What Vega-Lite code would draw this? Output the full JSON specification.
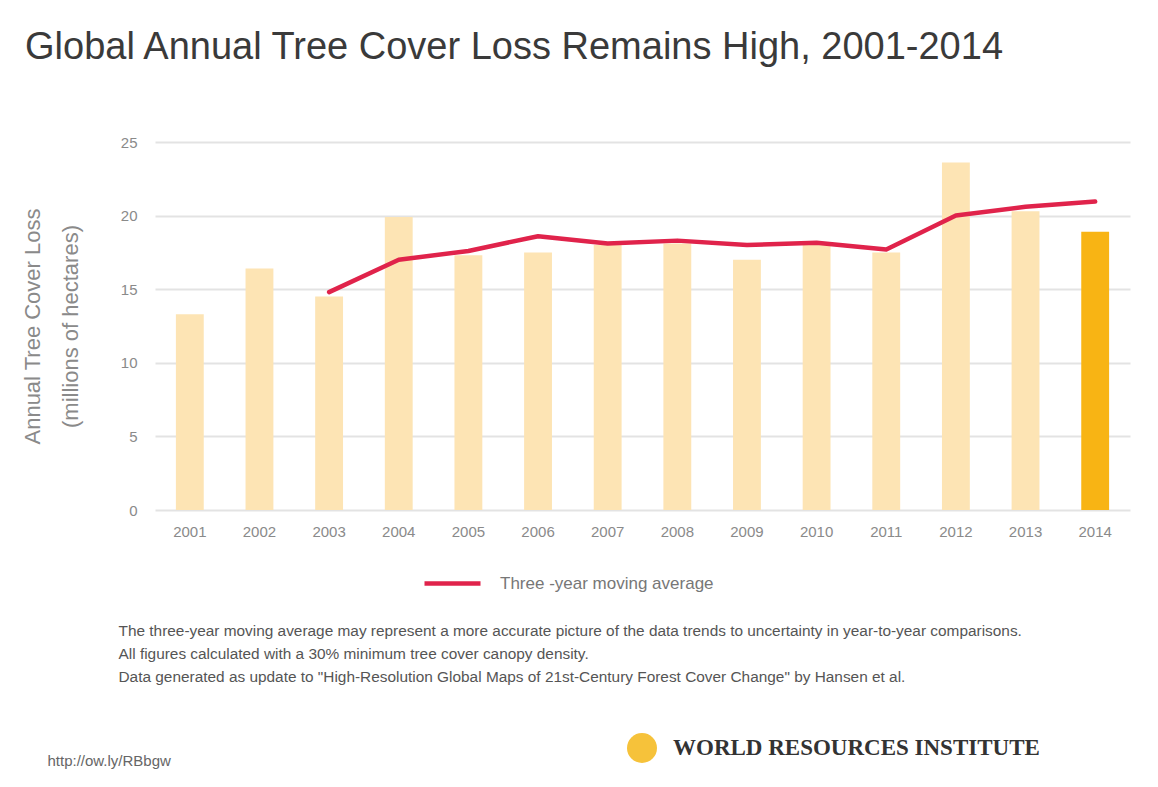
{
  "$schema": "https://vega.github.io/schema/vega-lite/v6.json",
  "autosize": "none",
  "width": 975,
  "height": 368,
  "padding": {"left": 155, "top": 142, "right": 28, "bottom": 277},
  "background": "white",
  "config": {
    "view": {"stroke": null},
    "font": "Liberation Sans"
  },
  "title": {
    "text": "Global Annual Tree Cover Loss Remains High, 2001-2014",
    "anchor": "start",
    "frame": "group",
    "dx": -130,
    "offset": 38,
    "baseline": "alphabetic",
    "font": "Liberation Sans",
    "fontSize": 38,
    "fontWeight": "normal",
    "color": "#3a3a3a"
  },
  "data": {
    "values": [
      {"year": "2001", "loss": 13.3, "avg": null},
      {"year": "2002", "loss": 16.4, "avg": null},
      {"year": "2003", "loss": 14.5, "avg": 14.8},
      {"year": "2004", "loss": 19.9, "avg": 17.0},
      {"year": "2005", "loss": 17.3, "avg": 17.6},
      {"year": "2006", "loss": 17.5, "avg": 18.6},
      {"year": "2007", "loss": 18.0, "avg": 18.1},
      {"year": "2008", "loss": 18.1, "avg": 18.3},
      {"year": "2009", "loss": 17.0, "avg": 18.0},
      {"year": "2010", "loss": 18.2, "avg": 18.15},
      {"year": "2011", "loss": 17.5, "avg": 17.7},
      {"year": "2012", "loss": 23.6, "avg": 20.0},
      {"year": "2013", "loss": 20.3, "avg": 20.6},
      {"year": "2014", "loss": 18.9, "avg": 20.95}
    ]
  },
  "resolve": {"axis": {"y": "independent"}},
  "layer": [
    {
      "mark": {"type": "bar"},
      "encoding": {
        "x": {
          "field": "year",
          "type": "ordinal",
          "scale": {"paddingInner": 0.6, "paddingOuter": 0.3},
          "axis": {
            "labelAngle": 0,
            "labelFontSize": 15,
            "labelColor": "#8a8a8a",
            "labelPadding": 14,
            "domain": false,
            "ticks": false,
            "title": [
              "The three-year moving average may represent a more accurate picture of the data trends to uncertainty in year-to-year comparisons.",
              "All figures calculated with a 30% minimum tree cover canopy density.",
              "Data generated as update to \"High-Resolution Global Maps of 21st-Century Forest Cover Change\" by Hansen et al."
            ],
            "titleAnchor": "start",
            "titleAlign": "left",
            "titleBaseline": "middle",
            "titleX": -37,
            "titleY": 120,
            "titleFontSize": 15.4,
            "titleFontWeight": "normal",
            "titleColor": "#555555",
            "titleLineHeight": 23,
            "titleLimit": 0
          }
        },
        "y": {
          "field": "loss",
          "type": "quantitative",
          "scale": {"domain": [0, 25], "nice": false},
          "axis": {
            "values": [0, 5, 10, 15, 20, 25],
            "domain": false,
            "ticks": false,
            "labelFontSize": 15,
            "labelColor": "#8a8a8a",
            "labelPadding": 18,
            "gridColor": "#e3e3e3",
            "gridWidth": 2,
            "title": ["Annual Tree Cover Loss", "(millions of hectares)"],
            "titleFontSize": 22,
            "titleFontWeight": "normal",
            "titleColor": "#8a8a8a",
            "titleLineHeight": 38,
            "titlePadding": 38
          }
        },
        "color": {
          "condition": {"test": "datum.year === '2014'", "value": "#F8B414"},
          "value": "#FDE4B4"
        }
      }
    },
    {
      "transform": [{"filter": "datum.avg != null"}],
      "mark": {"type": "line", "strokeWidth": 4.5, "strokeJoin": "round", "strokeCap": "round"},
      "encoding": {
        "x": {"field": "year", "type": "ordinal"},
        "y": {
          "field": "avg",
          "type": "quantitative",
          "axis": {
            "orient": "right",
            "labels": false,
            "domain": false,
            "ticks": false,
            "grid": false,
            "title": "http://ow.ly/RBbgw",
            "titleAngle": 0,
            "titleAlign": "left",
            "titleBaseline": "middle",
            "titleX": -1083,
            "titleY": 618,
            "titleFontSize": 15,
            "titleFontWeight": "normal",
            "titleColor": "#666666"
          }
        },
        "stroke": {
          "datum": "Three -year moving average",
          "scale": {"range": ["#E0234B"]},
          "legend": {
            "orient": "none",
            "legendX": 267,
            "legendY": 411,
            "title": null,
            "symbolType": "stroke",
            "symbolSize": 3136,
            "symbolStrokeWidth": 4.5,
            "labelFontSize": 17,
            "labelColor": "#777777",
            "labelOffset": 17,
            "labelLimit": 0
          }
        }
      }
    },
    {
      "mark": {"type": "point", "filled": true, "size": 0, "strokeWidth": 0},
      "encoding": {
        "x": {"field": "year", "type": "ordinal"},
        "y": {"field": "loss", "type": "quantitative", "axis": null},
        "fill": {
          "datum": "WORLD RESOURCES INSTITUTE",
          "scale": {"range": ["#F6C23A"]},
          "legend": {
            "orient": "none",
            "legendX": 472,
            "legendY": 591,
            "title": null,
            "symbolType": "circle",
            "symbolSize": 900,
            "symbolStrokeWidth": 0,
            "symbolOpacity": 1,
            "labelFont": "Liberation Serif",
            "labelFontWeight": "bold",
            "labelFontSize": 23,
            "labelColor": "#333333",
            "labelOffset": 16,
            "labelLimit": 0
          }
        }
      }
    }
  ]
}
